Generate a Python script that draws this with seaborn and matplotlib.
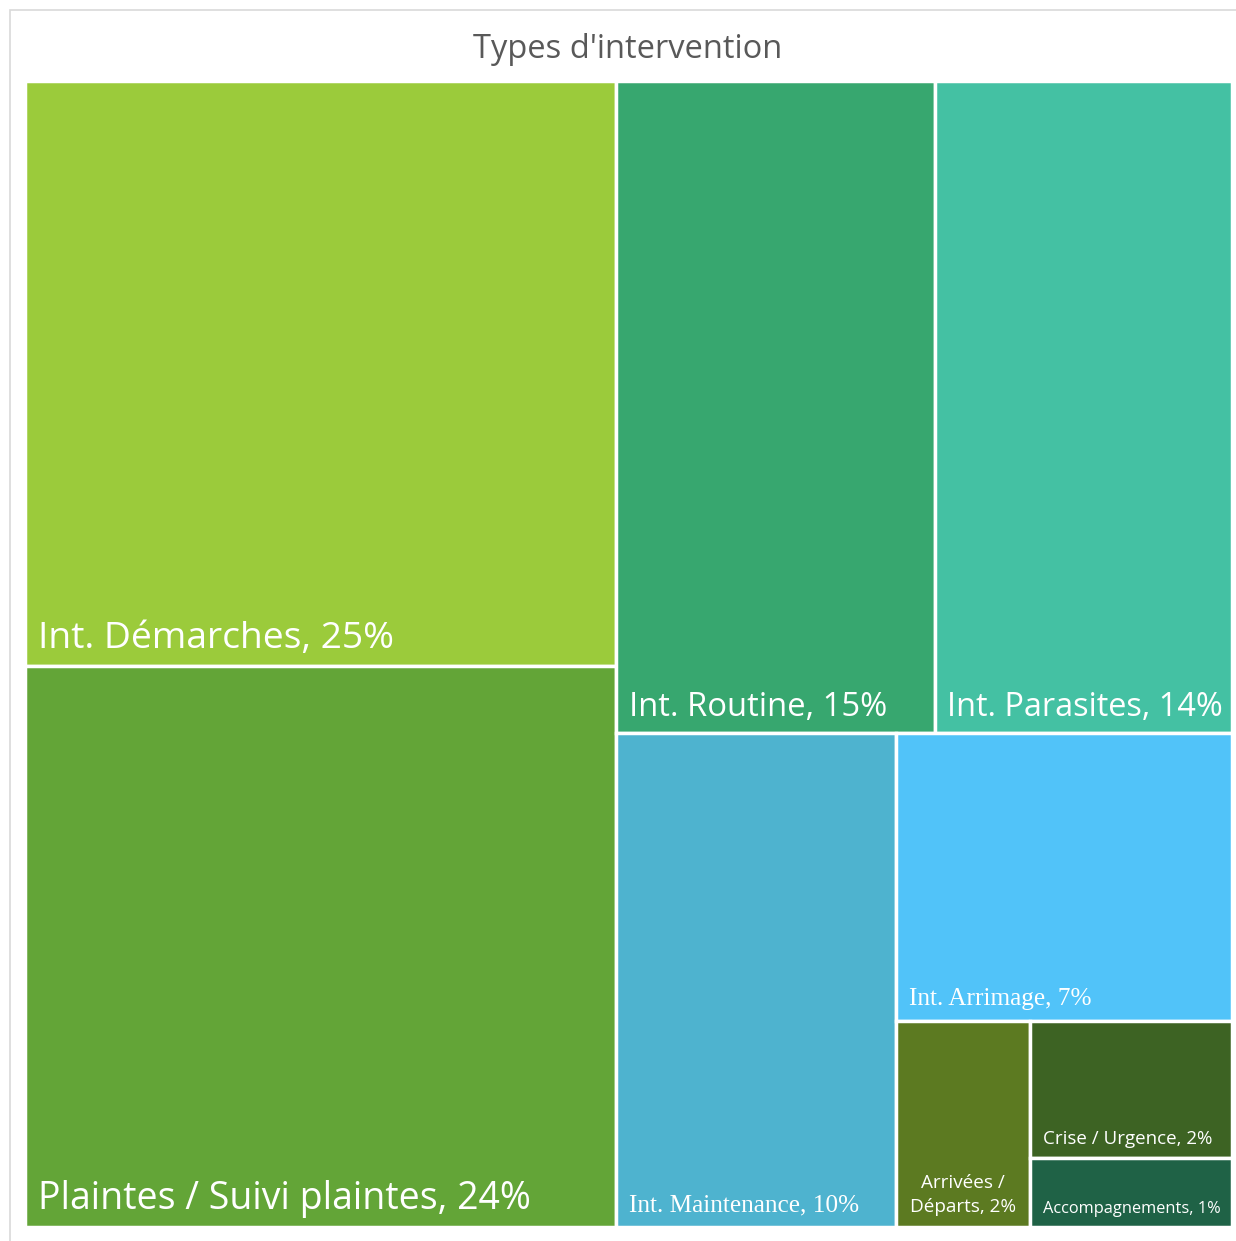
import matplotlib
matplotlib.use("Agg")
import matplotlib.pyplot as plt
import matplotlib.patches as mpatches
import seaborn as sns

# données (pourcentages)
categories = ["Int. Démarches", "Plaintes / Suivi plaintes", "Int. Routine",
              "Int. Parasites", "Int. Maintenance", "Int. Arrimage",
              "Arrivées /\nDéparts", "Crise / Urgence", "Accompagnements"]
values = [25, 24, 15, 14, 10, 7, 2, 2, 1]

# style
colors = ["#9BCB3B", "#63A537", "#37A76F", "#44C1A3", "#4EB3CF", "#51C3F9",
          "#5C7A21", "#3D6323", "#1F6246"]
font_sizes = [26.8, 27, 23.6, 23.4, 18.2, 18.2, 13.6, 13.5, 11.8]
serif = [False, False, False, False, True, True, False, False, False]
strip_counts = [2, 2, 1, 1, 1, 1, 1]  # nombre de tuiles par bande (colonne / ligne en alternance)


def strip_layout(vals, counts, x0=0.0, y0=0.0, w=1.0, h=1.0):
    '''Découpe le rectangle en bandes alternées colonne / ligne'''
    rects = []
    i = 0
    vertical = True
    remaining = float(sum(vals))
    for n in counts:
        group = vals[i:i + n]
        gsum = float(sum(group))
        frac = gsum / remaining
        if vertical:
            sw = w * frac
            yy = y0
            for v in group:
                hh = h * v / gsum
                rects.append((x0, yy, sw, hh))
                yy += hh
            x0 += sw
            w -= sw
        else:
            sh = h * frac
            xx = x0
            for v in group:
                ww = w * v / gsum
                rects.append((xx, y0, ww, sh))
                xx += ww
            y0 += sh
            h -= sh
        remaining -= gsum
        i += n
        vertical = not vertical
    return rects


sns.set_style("white")
plt.rcParams['font.family'] = ['Open Sans', 'DejaVu Sans']

W, H = 1236, 1241
fig = plt.figure(figsize=(W / 100, H / 100), dpi=100)

# cadre du graphique
fig.patches.append(mpatches.Rectangle((10 / W, -0.01), 1.02, 1 - 10 / H + 0.01,
                                      transform=fig.transFigure, fill=False,
                                      edgecolor="#D9D9D9", linewidth=1.2))

left, right, top, bottom = 25.25, 1231.75, 81.25, 1226.75
ax = fig.add_axes([left / W, 1 - bottom / H, (right - left) / W, (bottom - top) / H])
ax.set_xlim(0, 1)
ax.set_ylim(1, 0)
ax.axis("off")

rects = strip_layout(values, strip_counts)
for (x, y, w, h), cat, val, col, fs, is_serif in zip(rects, categories, values,
                                                     colors, font_sizes, serif):
    ax.add_patch(mpatches.Rectangle((x, y), w, h, facecolor=col,
                                    edgecolor="white", linewidth=2.5))
    family = ['Liberation Serif'] if is_serif else ['Open Sans', 'DejaVu Sans']
    label = f"{cat}, {val}%"
    dy = 8 + 0.17 * fs
    if "\n" in cat:
        ax.annotate(label, xy=(x + w / 2, y + h), xytext=(0, dy),
                    textcoords="offset points", ha="center", va="baseline",
                    multialignment="center", color="white", fontsize=fs,
                    family=family, linespacing=1.45)
    else:
        ax.annotate(label, xy=(x, y + h), xytext=(9, dy),
                    textcoords="offset points", ha="left", va="baseline",
                    color="white", fontsize=fs, family=family)

fig.text(628 / W, 1 - 50 / H, "Types d'intervention", ha="center", va="center",
         fontsize=23.5, color="#595959")

fig.savefig("out.png", dpi=100)
plt.close(fig)
